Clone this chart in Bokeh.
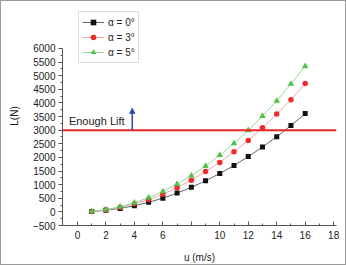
from bokeh.plotting import figure
from bokeh.models import (Range1d, Span, Label, Arrow, NormalHead, Legend,
                          LegendItem, FixedTicker, ColumnDataSource)
from bokeh.embed import file_html
from bokeh.resources import INLINE

# Lift L (N) versus flow speed u (m/s) for three angles of attack
speed = [1, 2, 3, 4, 5, 6, 7, 8, 9, 10, 11, 12, 13, 14, 15, 16]
lift_a0 = [14, 56, 127, 225, 350, 505, 690, 900, 1140, 1410, 1705, 2030, 2380, 2760, 3170, 3610]
lift_a3 = [18, 74, 166, 294, 450, 650, 890, 1165, 1480, 1815, 2210, 2620, 3090, 3590, 4120, 4710]
lift_a5 = [21, 84, 188, 334, 522, 752, 1020, 1330, 1680, 2080, 2515, 2995, 3520, 4075, 4695, 5346]

required_lift = 3000
arrow_u = 3.85
arrow_top = 3800

x_ticks = [0, 2, 4, 6, 8, 10, 12, 14, 16, 18]
x_tick_labels = {8: ""}
y_ticks = list(range(-500, 6001, 500))

FONT = "Liberation Sans"

p = figure(width=346, height=265, output_backend="svg", toolbar_location=None,
           x_range=Range1d(-1.05, 18.2), y_range=Range1d(-500, 7540),
           min_border_left=61, min_border_right=11, min_border_top=5,
           min_border_bottom=41)
p.outline_line_color = None
p.grid.grid_line_color = None
p.background_fill_color = "white"
p.border_fill_color = "white"
p.styles = {"border": "1px solid #9a9a9a", "box-sizing": "border-box"}

# axes
xa = p.xaxis[0]
ya = p.yaxis[0]
xa.ticker = FixedTicker(ticks=x_ticks, minor_ticks=[t + 1 for t in x_ticks[:-1]])
xa.major_label_overrides = x_tick_labels
ya.ticker = FixedTicker(ticks=y_ticks, minor_ticks=[t + 250 for t in y_ticks[:-1]])
ya.bounds = (-500, 6000)
xa.bounds = (-1.05, 18.2)
for ax in (xa, ya):
    ax.axis_line_color = "#555555"
    ax.major_tick_line_color = "#555555"
    ax.minor_tick_line_color = "#555555"
    ax.major_label_text_font = FONT
    ax.major_label_text_font_size = "10px"
    ax.major_label_text_color = "#222222"
    ax.axis_label_text_font = FONT
    ax.axis_label_text_font_size = "10px"
    ax.axis_label_text_font_style = "normal"
    ax.axis_label_text_color = "#222222"
xa.major_tick_in = 4
xa.major_tick_out = 0
xa.minor_tick_in = 2
xa.minor_tick_out = 0
ya.major_tick_in = 0
ya.major_tick_out = 4
ya.minor_tick_in = 0
ya.minor_tick_out = 2
xa.axis_label = "u (m/s)"
ya.axis_label = "L(N)"
xa.major_label_standoff = 5
xa.axis_label_standoff = 10
ya.major_label_standoff = 3
ya.axis_label_standoff = 10

src = ColumnDataSource(dict(u=speed, a0=lift_a0, a3=lift_a3, a5=lift_a5))

l0 = p.line("u", "a0", source=src, line_color="#666666", line_width=1)
m0 = p.scatter("u", "a0", source=src, marker="square", size=5,
               fill_color="#111111", line_color=None)
l3 = p.line("u", "a3", source=src, line_color="#f2a4a4", line_width=1)
m3 = p.scatter("u", "a3", source=src, marker="circle", size=5.5,
               fill_color="#ee2a2a", line_color=None)
l5 = p.line("u", "a5", source=src, line_color="#9ad69a", line_width=1)
m5 = p.scatter("u", "a5", source=src, marker="triangle", size=6.5,
               fill_color="#4cc24c", line_color=None)

# required lift threshold
p.add_layout(Span(location=required_lift, dimension="width",
                  line_color="#ee2222", line_width=2))
p.add_layout(Arrow(x_start=arrow_u, y_start=required_lift, x_end=arrow_u, y_end=arrow_top,
                   line_color="#2a4ab0", line_width=1.5,
                   end=NormalHead(size=5, fill_color="#2a4ab0", line_color="#2a4ab0")))
p.add_layout(Label(x=-0.6, y=required_lift, y_offset=3, text="Enough Lift",
                   text_font=FONT, text_font_size="11px", text_color="#222222"))

legend = Legend(items=[
    LegendItem(label="α = 0°", renderers=[l0, m0]),
    LegendItem(label="α = 3°", renderers=[l3, m3]),
    LegendItem(label="α = 5°", renderers=[l5, m5]),
], location=(16, 162))
legend.border_line_color = "#bbbbbb"
legend.border_line_width = 1
legend.padding = 3
legend.margin = 0
legend.spacing = 1
legend.glyph_width = 22
legend.glyph_height = 14
legend.label_height = 14
legend.label_standoff = 4
legend.label_text_font = FONT
legend.label_text_font_size = "10px"
legend.label_text_color = "#222222"
legend.background_fill_alpha = 1
p.add_layout(legend, "center")

open("out.html", "w").write(file_html(p, INLINE))
